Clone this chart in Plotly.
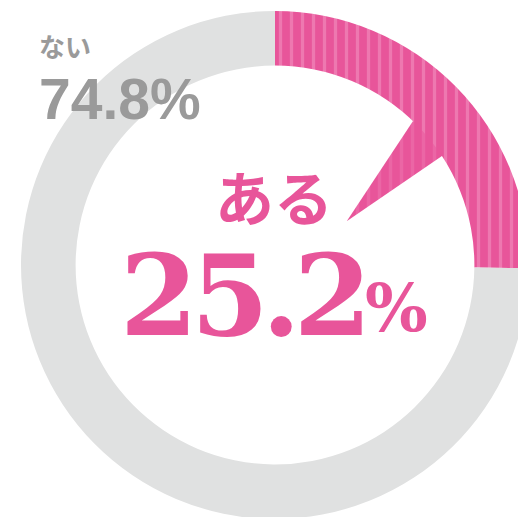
import math
import plotly.graph_objects as go

# ---- data ----
labels = ["ある", "ない"]
values = [25.2, 74.8]
value_text = ["25.2", "74.8"]

# ---- style ----
PINK = "#E8559A"
PINK_LIGHT = "#EE78B0"
GREY = "#E0E1E1"
GREY_TXT = "#9A9A9A"

OX, OY = 0, 0          # page offset of the plot div (body margin removed)
W, H = 530, 522        # figure size (page is clipped by the window)
CX, CY = 275 - OX, 265 - OY   # donut centre in figure px
R = 254
HOLE = 0.785

def px_to_paper(x, y):
    return (x - OX) / W, 1 - (y - OY) / H

fig = go.Figure()

# pointer of the speech bubble, built from the donut geometry
r_in = R * HOLE
def polar(r, deg):
    a = math.radians(deg)
    return CX + r * math.sin(a), CY - r * math.cos(a)

p1 = polar(r_in + 8, 43.4)
p2 = polar(r_in + 8, 56.8)
tip = polar(84, 58.6)
fig.add_trace(go.Scatter(
    x=[p1[0], tip[0], p2[0], p1[0]], y=[p1[1], tip[1], p2[1], p1[1]],
    mode="lines", fill="toself", line=dict(width=0, color=PINK),
    fillcolor=PINK,
    fillpattern=dict(shape="|", fgcolor=PINK_LIGHT, bgcolor=PINK, size=11, solidity=0.3),
    hoverinfo="skip", showlegend=False,
))

fig.add_trace(go.Pie(
    labels=labels, values=values, sort=False, direction="clockwise", rotation=0,
    hole=HOLE, textinfo="none", hoverinfo="label+percent",
    marker=dict(colors=[PINK, GREY], line=dict(width=0),
                pattern=dict(shape=["|", ""], fgcolor=[PINK_LIGHT, GREY],
                             bgcolor=[PINK, GREY], size=11, solidity=0.3)),
    domain=dict(x=[(CX - R) / W, (CX + R) / W], y=[1 - (CY + R) / H, 1 - (CY - R) / H]),
    showlegend=False,
))

def ann(text, x, y, size, color, family, xanchor="left"):
    px, py = px_to_paper(x, y)
    fig.add_annotation(text=text, x=px, y=py, xref="paper", yref="paper",
                       xanchor=xanchor, yanchor="middle", showarrow=False,
                       font=dict(size=size, color=color, family=family))

ann("<b>" + labels[1] + "</b>", 37, 46, 26, GREY_TXT, "Noto Sans CJK JP")
ann("<b>" + value_text[1] + "%</b>", 37, 99, 57, GREY_TXT, "Liberation Sans")
ann("<b>" + labels[0] + "</b>", 274, 195, 59, PINK, "Noto Sans CJK JP", "center")
ann("<b><span style='letter-spacing:-7px'>" + value_text[0] + "</span></b>",
    118, 295, 112, PINK, "DejaVu Serif")
ann("<b>%</b>", 363, 308, 66, PINK, "DejaVu Serif")

fig.update_layout(
    width=W, height=H, margin=dict(l=0, r=0, t=0, b=0),
    paper_bgcolor="white", plot_bgcolor="rgba(0,0,0,0)",
    xaxis=dict(range=[0, W], visible=False, domain=[0, 1], fixedrange=True),
    yaxis=dict(range=[H, 0], visible=False, domain=[0, 1], fixedrange=True),
)

fig.write_html(
    "out.html",
    config={"displayModeBar": False},
    post_script="document.body.style.margin='0';document.body.style.overflow='hidden';",
)
